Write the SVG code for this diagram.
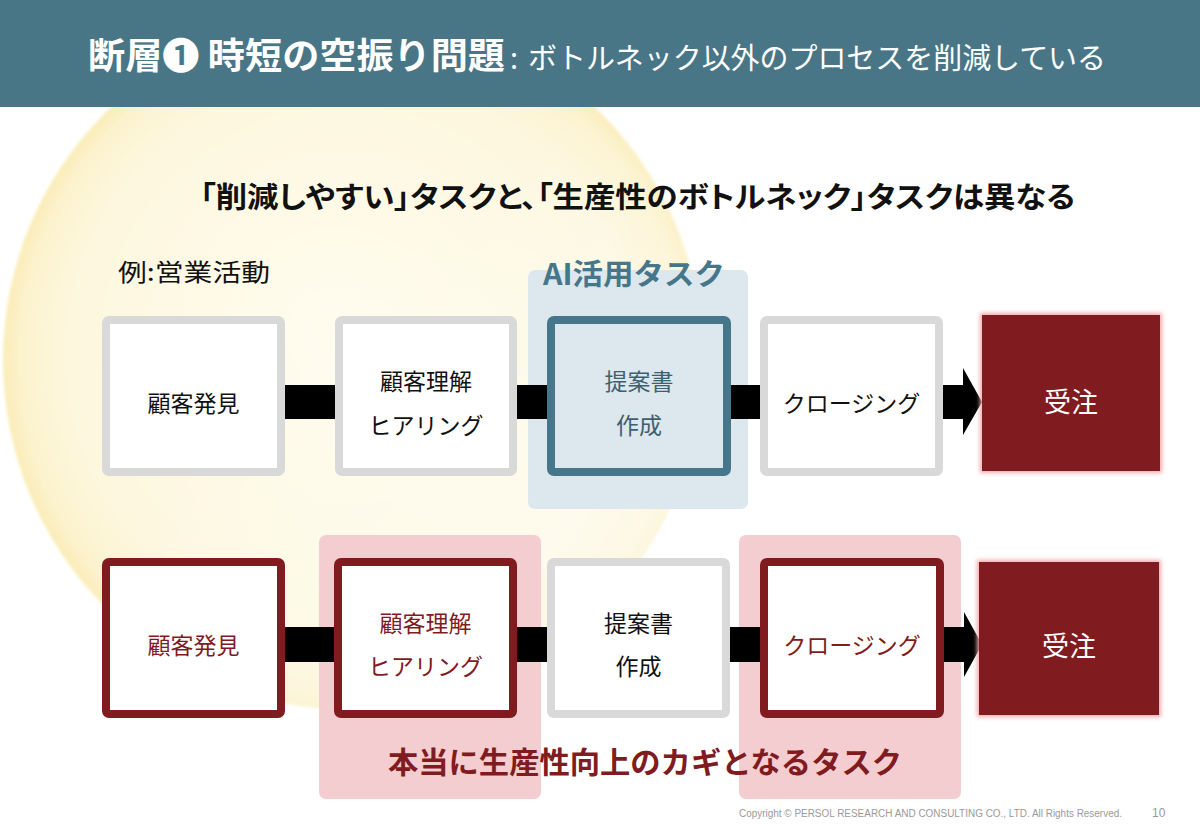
<svg xmlns="http://www.w3.org/2000/svg" width="1200" height="831" viewBox="0 0 1200 831">
<defs>
<radialGradient id="glow" cx="353" cy="360" r="350" gradientUnits="userSpaceOnUse" fx="330" fy="330">
<stop offset="0" stop-color="#fffcef"/>
<stop offset="0.8" stop-color="#fdf7de"/>
<stop offset="0.95" stop-color="#fcf2cc"/>
<stop offset="1" stop-color="#faedb8"/>
</radialGradient>
<linearGradient id="fade" x1="0" y1="0" x2="1" y2="1">
<stop offset="0.45" stop-color="#ffffff" stop-opacity="0"/>
<stop offset="1" stop-color="#ffffff" stop-opacity="0.75"/>
</linearGradient>
<filter id="soft" x="-10%" y="-10%" width="120%" height="120%">
<feGaussianBlur stdDeviation="2"/>
</filter>
<filter id="edge" x="-5%" y="-5%" width="110%" height="110%">
<feGaussianBlur stdDeviation="1.5"/>
</filter>
<style>
.jp{font-family:"Noto Sans CJK JP","Noto Sans",sans-serif;}
.gray{fill:#ffffff;stroke:#d9d9d9;stroke-width:8;}
.red{fill:#ffffff;stroke:#801b1f;stroke-width:8;}
.blue{fill:#dde8ee;stroke:#46768a;stroke-width:8;}
.lbl{font-size:23px;text-anchor:middle;dominant-baseline:central;}
.bar{fill:#000000;}
.done{fill:#801b1f;}
.doneGlow{fill:#f2a9ac;}
.doneTxt{font-size:27px;fill:#ffffff;text-anchor:middle;dominant-baseline:central;}
.palt{font-feature-settings:"palt";}
</style>
</defs>
<rect x="0" y="0" width="1200" height="831" fill="#ffffff"/>
<g filter="url(#edge)">
<circle cx="353" cy="360" r="350" fill="url(#glow)"/>
<circle cx="353" cy="360" r="350" fill="url(#fade)"/>
</g>
<g id="header">
<rect x="0" y="0" width="1200" height="107" fill="#497686"/>
<text class="jp" x="88" y="69" fill="#ffffff"><tspan font-size="36" font-weight="700" textLength="417" lengthAdjust="spacingAndGlyphs">断層❶ 時短の空振り問題</tspan><tspan x="510" font-size="29">:</tspan><tspan x="528" font-size="29" textLength="578" lengthAdjust="spacingAndGlyphs">ボトルネック以外のプロセスを削減している</tspan></text>
</g>
<text id="subtitle" class="jp palt" x="200" y="208" font-size="29" font-weight="700" fill="#111111" textLength="875" lengthAdjust="spacingAndGlyphs">「削減しやすい」タスクと、「生産性のボトルネック」タスクは異なる</text>
<text id="example" class="jp palt" x="118" y="281" font-size="24" fill="#111111" textLength="152" lengthAdjust="spacingAndGlyphs">例:営業活動</text>
<g id="ai-area">
<rect x="528" y="270" width="220" height="239" rx="7" fill="#dde8ee"/>
<text class="jp" x="543" y="272" font-size="29" font-weight="700" fill="#46768a" dominant-baseline="central" textLength="182" lengthAdjust="spacingAndGlyphs">AI活用タスク</text>
</g>
<g id="key-area">
<rect x="319" y="535" width="222" height="264" rx="7" fill="#f4cdd0"/>
<rect x="739" y="535" width="222" height="264" rx="7" fill="#f4cdd0"/>
</g>
<g id="connectors">
<rect class="bar" x="283" y="385" width="54" height="34"/>
<rect class="bar" x="515" y="385" width="34" height="34"/>
<rect class="bar" x="729" y="385" width="33" height="34"/>
<polygon class="bar" points="941,385 963,385 963,368 982,402 963,435 963,419 941,419"/>
<rect class="bar" x="283" y="627" width="54" height="35"/>
<rect class="bar" x="515" y="627" width="34" height="35"/>
<rect class="bar" x="728" y="627" width="34" height="35"/>
<polygon class="bar" points="942,627 964,627 964,612 982,644.5 964,677 964,662 942,662"/>
</g>
<g id="r1-find"><rect class="gray" x="106" y="320" width="175" height="152" rx="3"/><text class="jp lbl" x="193.5" y="402" fill="#111111">顧客発見</text></g>
<g id="r1-hearing"><rect class="gray" x="339" y="320" width="174" height="152" rx="3"/><text class="jp lbl" x="426" y="380" fill="#111111">顧客理解</text><text class="jp lbl" x="426" y="424" fill="#111111">ヒアリング</text></g>
<g id="r1-proposal"><rect class="blue" x="551" y="320" width="176" height="152" rx="3"/><text class="jp lbl" x="639" y="380" fill="#3d6070">提案書</text><text class="jp lbl" x="639" y="424" fill="#3d6070">作成</text></g>
<g id="r1-closing"><rect class="gray" x="764" y="320" width="175" height="152" rx="3"/><text class="jp lbl" x="851.5" y="402" fill="#111111">クロージング</text></g>
<g id="r1-order"><rect class="doneGlow" x="980" y="313" width="182" height="160" filter="url(#soft)"/><rect class="done" x="982" y="315" width="178" height="156"/><text class="jp doneTxt" x="1071" y="400">受注</text></g>
<g id="r2-find"><rect class="red" x="106" y="562" width="175" height="152" rx="3"/><text class="jp lbl" x="193.5" y="644" fill="#801b1f">顧客発見</text></g>
<g id="r2-hearing"><rect class="red" x="338" y="562" width="175" height="152" rx="3"/><text class="jp lbl" x="425.5" y="622" fill="#801b1f">顧客理解</text><text class="jp lbl" x="425.5" y="665" fill="#801b1f">ヒアリング</text></g>
<g id="r2-proposal"><rect class="gray" x="551" y="562" width="175" height="152" rx="3"/><text class="jp lbl" x="638.5" y="622" fill="#111111">提案書</text><text class="jp lbl" x="638.5" y="665" fill="#111111">作成</text></g>
<g id="r2-closing"><rect class="red" x="764" y="562" width="176" height="152" rx="3"/><text class="jp lbl" x="852" y="644" fill="#801b1f">クロージング</text></g>
<g id="r2-order"><rect class="doneGlow" x="977" y="560" width="184" height="157" filter="url(#soft)"/><rect class="done" x="979" y="562" width="180" height="153"/><text class="jp doneTxt" x="1069" y="644">受注</text></g>
<text id="key-label" class="jp" x="645" y="760" font-size="30" font-weight="700" fill="#801b1f" text-anchor="middle" dominant-baseline="central" textLength="514" lengthAdjust="spacingAndGlyphs">本当に生産性向上のカギとなるタスク</text>
<g id="footer" font-family="Liberation Sans, Arial, sans-serif" fill="#9a9a9a">
<text x="739" y="817" font-size="10" textLength="383" lengthAdjust="spacingAndGlyphs">Copyright © PERSOL RESEARCH AND CONSULTING CO., LTD. All Rights Reserved.</text>
<text x="1152" y="817" font-size="12">10</text>
</g>
</svg>
